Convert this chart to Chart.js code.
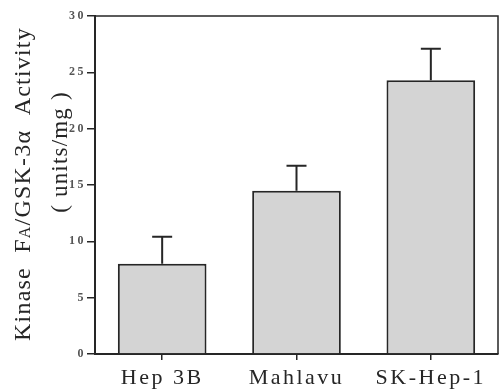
<!DOCTYPE html>
<html>
<head>
<meta charset="utf-8">
<script src="https://cdn.jsdelivr.net/npm/chart.js@4/dist/chart.umd.min.js"></script>
<style>
  html, body { margin: 0; padding: 0; background: #fff; }
  #wrap { width: 500px; height: 390px; }
</style>
</head>
<body>
<div id="wrap"><canvas id="chart" width="500" height="390"></canvas></div>
<script>
const cellLines = ['Hep 3B', 'Mahlavu', 'SK-Hep-1'];
const activity = [8.0, 14.5, 24.3];
const activityErr = [2.4, 2.2, 2.8];
const yTicks = [0, 5, 10, 15, 20, 25, 30];

const ink = '#262626';

// upward-only error bars, positioned through the y scale
const errorBars = {
    id: 'errorBars',
    afterDatasetsDraw(chart) {
        const ctx = chart.ctx;
        const y = chart.scales.y;
        const meta = chart.getDatasetMeta(0);
        ctx.save();
        ctx.strokeStyle = ink;
        ctx.lineWidth = 2;
        meta.data.forEach((bar, i) => {
            const top = y.getPixelForValue(activity[i] + activityErr[i]);
            ctx.beginPath();
            ctx.moveTo(bar.x, bar.y);
            ctx.lineTo(bar.x, top);
            ctx.moveTo(bar.x - 10, top);
            ctx.lineTo(bar.x + 10, top);
            ctx.stroke();
        });
        ctx.restore();
    }
};

// top and right sides of the frame
const frame = {
    id: 'frame',
    afterDraw(chart) {
        const { left, right, top, bottom } = chart.chartArea;
        const ctx = chart.ctx;
        ctx.save();
        ctx.strokeStyle = ink;
        ctx.lineWidth = 1.5;
        ctx.beginPath();
        ctx.moveTo(left, top);
        ctx.lineTo(right, top);
        ctx.lineTo(right, bottom);
        ctx.stroke();
        ctx.restore();
    }
};

// two-line rotated y title with small-cap "A"
const yTitle = {
    id: 'yTitle',
    afterDraw(chart) {
        const ctx = chart.ctx;
        ctx.save();
        ctx.fillStyle = ink;
        ctx.textBaseline = 'middle';
        ctx.letterSpacing = '1.2px';
        const big = '24px "Liberation Serif", serif';
        const small = '16px "Liberation Serif", serif';
        const parts = [['Kinase  F', big], ['A', small], ['/GSK-3\u03b1  Activity', big]];
        let total = 0;
        parts.forEach(p => { ctx.font = p[1]; total += ctx.measureText(p[0]).width; });
        ctx.translate(24, 184);
        ctx.rotate(-Math.PI / 2);
        let x = -total / 2;
        parts.forEach(p => {
            ctx.font = p[1];
            ctx.textAlign = 'left';
            ctx.fillText(p[0], x, p[1] === small ? 2 : 0);
            x += ctx.measureText(p[0]).width;
        });
        ctx.setTransform(1, 0, 0, 1, 0, 0);
        ctx.translate(61, 152);
        ctx.rotate(-Math.PI / 2);
        ctx.font = '23px "Liberation Serif", serif';
        ctx.textAlign = 'center';
        ctx.fillText('( units/mg )', 0, 0);
        ctx.restore();
    }
};

const spacing = {
    id: 'spacing',
    beforeDraw(chart) { chart.ctx.letterSpacing = '2.5px'; }
};

new Chart(document.getElementById('chart'), {
    type: 'bar',
    data: {
        labels: cellLines,
        datasets: [{
            data: activity,
            backgroundColor: '#d4d4d4',
            borderColor: ink,
            borderWidth: 2,
            borderSkipped: 'bottom',
            barPercentage: 0.66,
            categoryPercentage: 1
        }]
    },
    options: {
        responsive: false,
        animation: false,
        layout: { padding: { top: 16, right: 2, left: 0, bottom: 0 } },
        plugins: { legend: { display: false }, tooltip: { enabled: false } },
        scales: {
            x: {
                grid: { display: true, drawOnChartArea: false, offset: false, tickLength: 6, color: ink, lineWidth: 1.5 },
                border: { display: true, color: ink, width: 2 },
                ticks: { color: ink, padding: 5, font: { family: '"Liberation Serif", serif', size: 22 } },
                afterFit(scale) { scale.height = 36; }
            },
            y: {
                min: 0, max: 30,
                afterBuildTicks(scale) { scale.ticks = yTicks.map(v => ({ value: v })); },
                grid: { display: true, drawOnChartArea: false, tickLength: 8, color: ink, lineWidth: 1.5 },
                border: { display: true, color: ink, width: 2 },
                ticks: { color: '#555', padding: 1, font: { family: '"Liberation Serif", serif', size: 12, weight: 'bold' } },
                afterFit(scale) { scale.width = 95; }
            }
        }
    },
    plugins: [spacing, errorBars, frame, yTitle]
});
</script>
</body>
</html>
